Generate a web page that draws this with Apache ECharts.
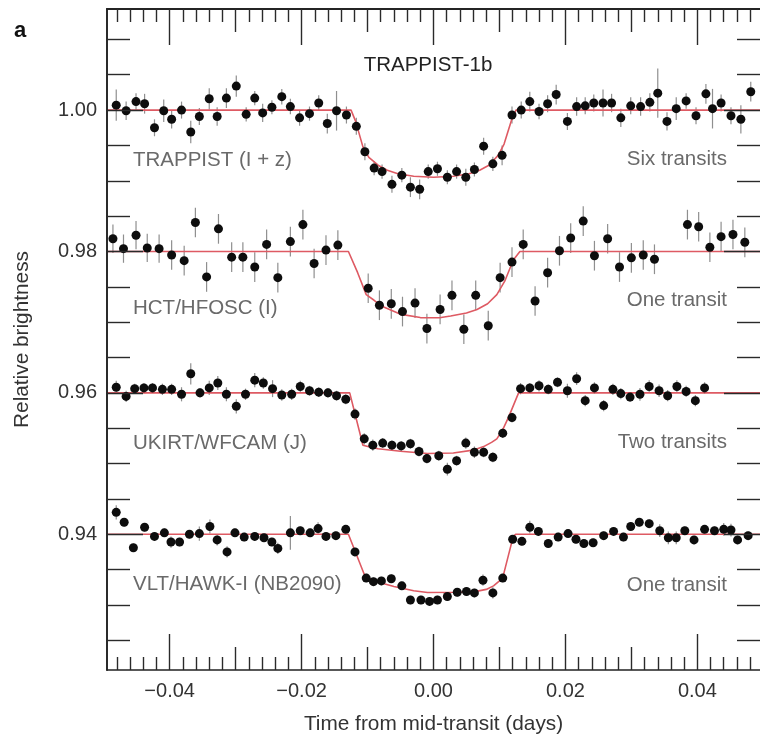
<!DOCTYPE html>
<html>
<head>
<meta charset="utf-8">
<script src="https://cdn.jsdelivr.net/npm/echarts@6/dist/echarts.min.js"></script>
<style>
  html, body { margin: 0; padding: 0; background: #ffffff; }
  #chart { width: 760px; height: 740px; }
</style>
</head>
<body>
<div id="chart"></div>
<script>
// Axis extents and tick positions
const xRange = [-0.0495, 0.0495];
const yRange = [0.9208, 1.0143];
const xMajorTicks = [-0.04, -0.02, 0.00, 0.02, 0.04];
const xMidTicks = [-0.03, -0.01, 0.01, 0.03];
const xMinorTicks = [];
for (let k = -24; k <= 24; k++) {
  if (k % 5 !== 0) xMinorTicks.push(k * 0.002);
}
const yMajorTicks = [0.94, 0.96, 0.98, 1.00];
const yMinorTicks = [0.925, 0.93, 0.935, 0.945, 0.95, 0.955, 0.965, 0.97, 0.975,
                     0.985, 0.99, 0.995, 1.005, 1.01];

const panelNames = ['TRAPPIST (I + z)', 'HCT/HFOSC (I)', 'UKIRT/WFCAM (J)', 'VLT/HAWK-I (NB2090)'];
const transitNotes = ['Six transits', 'One transit', 'Two transits', 'One transit'];

// Binned photometry: [time (days), relative flux, 1-sigma error]
const trappistObs = [
  [-0.0481,1.0007,0.0022],[-0.0466,0.9999,0.0013],[-0.0451,1.0012,0.0012],[-0.0438,1.0009,0.0014],
  [-0.0423,0.9975,0.0012],[-0.0409,0.9999,0.0016],[-0.0397,0.9987,0.0013],[-0.0382,1.0000,0.0012],
  [-0.0368,0.9969,0.0016],[-0.0355,0.9991,0.0012],[-0.0340,1.0016,0.0015],[-0.0328,0.9991,0.0013],
  [-0.0314,1.0017,0.0014],[-0.0299,1.0034,0.0015],[-0.0284,0.9994,0.0010],[-0.0271,1.0017,0.0010],
  [-0.0259,0.9996,0.0013],[-0.0245,1.0004,0.0010],[-0.0230,1.0019,0.0011],[-0.0217,1.0005,0.0011],
  [-0.0203,0.9989,0.0011],[-0.0188,0.9995,0.0010],[-0.0174,1.0010,0.0011],[-0.0161,0.9981,0.0014],
  [-0.0147,0.9999,0.0028],[-0.0132,0.9993,0.0012],[-0.0117,0.9977,0.0012],[-0.0104,0.9941,0.0012],
  [-0.0090,0.9918,0.0010],[-0.0078,0.9913,0.0010],[-0.0063,0.9895,0.0012],[-0.0048,0.9908,0.0010],
  [-0.0035,0.9891,0.0014],[-0.0021,0.9888,0.0014],[-0.0008,0.9913,0.0010],[0.0006,0.9917,0.0010],
  [0.0021,0.9905,0.0010],[0.0035,0.9913,0.0010],[0.0049,0.9905,0.0012],[0.0062,0.9916,0.0010],
  [0.0076,0.9949,0.0012],[0.0090,0.9924,0.0010],[0.0104,0.9936,0.0014],[0.0119,0.9993,0.0012],
  [0.0133,1.0000,0.0012],[0.0146,1.0012,0.0014],[0.0160,0.9998,0.0011],[0.0173,1.0009,0.0012],
  [0.0186,1.0022,0.0014],[0.0203,0.9984,0.0012],[0.0217,1.0005,0.0013],[0.0230,1.0006,0.0012],
  [0.0243,1.0010,0.0012],[0.0257,1.0010,0.0019],[0.0270,1.0010,0.0013],[0.0284,0.9989,0.0013],
  [0.0299,1.0006,0.0012],[0.0314,1.0005,0.0013],[0.0328,1.0011,0.0013],[0.0340,1.0024,0.0035],
  [0.0354,0.9984,0.0013],[0.0368,1.0002,0.0016],[0.0383,1.0013,0.0011],[0.0398,0.9992,0.0012],
  [0.0413,1.0023,0.0014],[0.0423,1.0002,0.0028],[0.0436,1.0010,0.0012],[0.0451,0.9992,0.0012],
  [0.0466,0.9987,0.0020],[0.0481,1.0026,0.0014]
];
const hctObs = [
  [-0.0486,0.9818,0.0020],[-0.0470,0.9804,0.0020],[-0.0451,0.9823,0.0020],[-0.0434,0.9805,0.0020],
  [-0.0416,0.9804,0.0020],[-0.0397,0.9795,0.0021],[-0.0378,0.9787,0.0021],[-0.0361,0.9841,0.0021],
  [-0.0344,0.9764,0.0021],[-0.0326,0.9832,0.0021],[-0.0306,0.9792,0.0021],[-0.0289,0.9792,0.0021],
  [-0.0271,0.9778,0.0021],[-0.0253,0.9810,0.0021],[-0.0236,0.9763,0.0021],[-0.0217,0.9814,0.0021],
  [-0.0198,0.9838,0.0021],[-0.0181,0.9783,0.0021],[-0.0163,0.9802,0.0021],[-0.0145,0.9809,0.0021],
  [-0.0099,0.9748,0.0021],[-0.0082,0.9724,0.0021],[-0.0064,0.9726,0.0021],[-0.0047,0.9715,0.0021],
  [-0.0028,0.9727,0.0021],[-0.0010,0.9691,0.0021],[0.0010,0.9718,0.0021],[0.0028,0.9738,0.0021],
  [0.0046,0.9690,0.0021],[0.0064,0.9738,0.0021],[0.0083,0.9695,0.0021],[0.0101,0.9763,0.0021],
  [0.0119,0.9785,0.0021],[0.0136,0.9810,0.0021],[0.0154,0.9730,0.0021],[0.0173,0.9770,0.0021],
  [0.0191,0.9801,0.0021],[0.0208,0.9819,0.0021],[0.0227,0.9843,0.0021],[0.0244,0.9794,0.0021],
  [0.0264,0.9818,0.0021],[0.0282,0.9778,0.0021],[0.0300,0.9791,0.0021],[0.0318,0.9795,0.0021],
  [0.0335,0.9789,0.0021],[0.0385,0.9838,0.0021],[0.0402,0.9835,0.0021],[0.0419,0.9806,0.0021],
  [0.0436,0.9821,0.0021],[0.0454,0.9824,0.0021],[0.0472,0.9813,0.0021]
];
const ukirtObs = [
  [-0.0481,0.9608,0.0009],[-0.0466,0.9595,0.0008],[-0.0453,0.9606,0.0007],[-0.0439,0.9607,0.0007],
  [-0.0426,0.9607,0.0007],[-0.0411,0.9605,0.0008],[-0.0397,0.9605,0.0008],[-0.0382,0.9598,0.0010],
  [-0.0368,0.9627,0.0015],[-0.0354,0.9600,0.0007],[-0.0340,0.9607,0.0010],[-0.0327,0.9614,0.0010],
  [-0.0314,0.9598,0.0010],[-0.0299,0.9581,0.0010],[-0.0285,0.9598,0.0008],[-0.0271,0.9618,0.0010],
  [-0.0258,0.9614,0.0008],[-0.0244,0.9606,0.0012],[-0.0230,0.9597,0.0008],[-0.0215,0.9598,0.0008],
  [-0.0202,0.9609,0.0008],[-0.0188,0.9603,0.0007],[-0.0174,0.9601,0.0007],[-0.0160,0.9600,0.0007],
  [-0.0147,0.9596,0.0007],[-0.0133,0.9591,0.0007],[-0.0119,0.9570,0.0008],[-0.0105,0.9535,0.0008],
  [-0.0092,0.9526,0.0008],[-0.0077,0.9529,0.0007],[-0.0063,0.9526,0.0007],[-0.0049,0.9525,0.0007],
  [-0.0035,0.9528,0.0007],[-0.0022,0.9517,0.0007],[-0.0010,0.9507,0.0007],[0.0008,0.9511,0.0007],
  [0.0021,0.9492,0.0009],[0.0035,0.9504,0.0007],[0.0049,0.9529,0.0008],[0.0062,0.9516,0.0008],
  [0.0076,0.9516,0.0007],[0.0090,0.9509,0.0007],[0.0105,0.9543,0.0007],[0.0119,0.9565,0.0007],
  [0.0132,0.9606,0.0008],[0.0146,0.9607,0.0007],[0.0160,0.9610,0.0008],[0.0174,0.9605,0.0007],
  [0.0188,0.9615,0.0007],[0.0203,0.9603,0.0010],[0.0217,0.9620,0.0009],[0.0230,0.9589,0.0008],
  [0.0244,0.9607,0.0008],[0.0258,0.9582,0.0008],[0.0272,0.9605,0.0008],[0.0284,0.9599,0.0008],
  [0.0298,0.9594,0.0007],[0.0313,0.9598,0.0009],[0.0327,0.9609,0.0009],[0.0342,0.9603,0.0009],
  [0.0355,0.9596,0.0008],[0.0369,0.9609,0.0009],[0.0383,0.9602,0.0008],[0.0397,0.9589,0.0008],
  [0.0411,0.9607,0.0008]
];
const vltObs = [
  [-0.0481,0.9431,0.0010],[-0.0469,0.9417,0.0006],[-0.0455,0.9381,0.0006],[-0.0438,0.9410,0.0006],
  [-0.0423,0.9397,0.0006],[-0.0408,0.9402,0.0006],[-0.0398,0.9389,0.0008],[-0.0385,0.9389,0.0006],
  [-0.0370,0.9400,0.0006],[-0.0355,0.9401,0.0010],[-0.0339,0.9411,0.0010],[-0.0328,0.9392,0.0008],
  [-0.0313,0.9375,0.0008],[-0.0301,0.9402,0.0006],[-0.0287,0.9396,0.0006],[-0.0271,0.9397,0.0006],
  [-0.0257,0.9395,0.0006],[-0.0245,0.9389,0.0006],[-0.0236,0.9380,0.0008],[-0.0217,0.9402,0.0024],
  [-0.0202,0.9405,0.0006],[-0.0187,0.9402,0.0006],[-0.0175,0.9408,0.0009],[-0.0163,0.9397,0.0006],
  [-0.0148,0.9398,0.0006],[-0.0133,0.9407,0.0006],[-0.0119,0.9375,0.0006],[-0.0102,0.9338,0.0006],
  [-0.0091,0.9333,0.0006],[-0.0079,0.9334,0.0006],[-0.0064,0.9337,0.0006],[-0.0048,0.9327,0.0006],
  [-0.0035,0.9307,0.0006],[-0.0019,0.9307,0.0006],[-0.0006,0.9305,0.0006],[0.0006,0.9307,0.0006],
  [0.0021,0.9312,0.0006],[0.0036,0.9318,0.0006],[0.0050,0.9319,0.0006],[0.0062,0.9317,0.0006],
  [0.0075,0.9335,0.0008],[0.0090,0.9317,0.0008],[0.0105,0.9338,0.0006],[0.0120,0.9393,0.0006],
  [0.0134,0.9390,0.0006],[0.0146,0.9410,0.0009],[0.0159,0.9404,0.0006],[0.0174,0.9387,0.0006],
  [0.0189,0.9396,0.0006],[0.0204,0.9401,0.0006],[0.0216,0.9393,0.0006],[0.0228,0.9387,0.0006],
  [0.0242,0.9388,0.0006],[0.0258,0.9398,0.0006],[0.0273,0.9404,0.0006],[0.0288,0.9396,0.0006],
  [0.0299,0.9411,0.0006],[0.0312,0.9417,0.0006],[0.0327,0.9415,0.0006],[0.0343,0.9405,0.0009],
  [0.0356,0.9395,0.0009],[0.0368,0.9395,0.0009],[0.0381,0.9405,0.0006],[0.0395,0.9392,0.0006],
  [0.0411,0.9407,0.0006],[0.0426,0.9405,0.0006],[0.0440,0.9407,0.0009],[0.0451,0.9406,0.0009],
  [0.0461,0.9392,0.0006],[0.0477,0.9398,0.0006]
];

// Best-fit transit models: [time (days), relative flux]
const trappistModel = [
  [-0.0495,1.0000],[-0.0125,1.0000],[-0.0118,0.9984],[-0.0107,0.9948],[-0.0098,0.9933],
  [-0.0084,0.9922],[-0.0070,0.9915],[-0.0054,0.9910],[-0.0030,0.99065],[0.0000,0.9905],
  [0.0030,0.99065],[0.0054,0.9910],[0.0070,0.9915],[0.0084,0.9922],[0.0098,0.9936],
  [0.0107,0.9952],[0.0118,0.9985],[0.0125,1.0000],[0.0495,1.0000]
];
const hctModel = [
  [-0.0495,0.9800],[-0.0129,0.9800],[-0.0115,0.9770],[-0.0102,0.9739],[-0.0090,0.9731],
  [-0.0079,0.9723],[-0.0049,0.9711],[-0.0020,0.97065],[0.0009,0.97063],[0.0026,0.97087],
  [0.0050,0.9713],[0.0066,0.9718],[0.0082,0.9726],[0.0096,0.9739],[0.0108,0.9758],
  [0.0121,0.9788],[0.0131,0.9800],[0.0495,0.9800]
];
const ukirtModel = [
  [-0.0495,0.9600],[-0.0127,0.9600],[-0.0107,0.9526],[-0.0095,0.9523],[-0.0084,0.9521],
  [-0.0050,0.95175],[-0.0009,0.95143],[0.0030,0.9515],[0.0060,0.9519],[0.0076,0.9524],
  [0.0088,0.9530],[0.0096,0.9535],[0.0105,0.9548],[0.0114,0.9566],[0.0129,0.9600],[0.0495,0.9600]
];
const vltModel = [
  [-0.0495,0.9400],[-0.0129,0.9400],[-0.0104,0.9341],[-0.0090,0.9334],[-0.0060,0.9326],
  [-0.0030,0.9320],[-0.0009,0.93176],[0.0030,0.9318],[0.0061,0.93185],[0.0080,0.9322],
  [0.0091,0.9327],[0.0100,0.9334],[0.0105,0.93386],[0.0121,0.93973],[0.0125,0.9400],[0.0495,0.9400]
];

const panels = [
  { obs: trappistObs, model: trappistModel },
  { obs: hctObs, model: hctModel },
  { obs: ukirtObs, model: ukirtModel },
  { obs: vltObs, model: vltModel }
];

const FONT = 'Liberation Sans, Arial, Helvetica, sans-serif';
const INK = '#222222';
const TICK = '#2a2a2a';

function fmt(v) {
  const s = Math.abs(v).toFixed(2);
  return v < -1e-9 ? '\u2212' + s : s;
}

function xAxisDef(position, ticks, len, withLabels) {
  return {
    type: 'value', position: position, min: xRange[0], max: xRange[1], z: 6,
    splitLine: { show: false },
    axisLine: { show: withLabels || position === 'top', onZero: false, lineStyle: { color: INK, width: 1.6 } },
    axisTick: { show: true, inside: true, length: len, customValues: ticks,
                lineStyle: { color: TICK, width: 1.4 } },
    axisLabel: withLabels
      ? { show: true, customValues: xMajorTicks, formatter: fmt, margin: 11,
          fontFamily: FONT, fontSize: 20, color: '#333333' }
      : { show: false },
    name: withLabels ? 'Time from mid-transit (days)' : '',
    nameLocation: 'middle', nameGap: 44,
    nameTextStyle: { fontFamily: FONT, fontSize: 20.8, color: '#333333' }
  };
}

function yAxisDef(position, ticks, len, withLabels) {
  return {
    type: 'value', position: position, min: yRange[0], max: yRange[1], z: 6,
    splitLine: { show: false },
    axisLine: { show: position === 'left', onZero: false, lineStyle: { color: INK, width: 1.6 } },
    axisTick: { show: true, inside: true, length: len, customValues: ticks,
                lineStyle: { color: TICK, width: 1.4 } },
    axisLabel: withLabels
      ? { show: true, customValues: yMajorTicks, formatter: fmt, margin: 10,
          fontFamily: FONT, fontSize: 20, color: '#333333' }
      : { show: false },
    name: withLabels ? 'Relative brightness' : '',
    nameLocation: 'middle', nameGap: 74, nameRotate: 90,
    nameTextStyle: { fontFamily: FONT, fontSize: 20.8, color: '#333333' }
  };
}

const series = [];
panels.forEach(function (p) {
  series.push({
    type: 'custom', xAxisIndex: 0, yAxisIndex: 0, z: 2, silent: true,
    data: p.obs,
    renderItem: function (params, api) {
      const t = api.value(0), v = api.value(1), e = api.value(2);
      const lo = api.coord([t, v - e]);
      const hi = api.coord([t, v + e]);
      return {
        type: 'line',
        shape: { x1: lo[0], y1: lo[1], x2: hi[0], y2: hi[1] },
        style: { stroke: '#8f8f8f', lineWidth: 1.2 }
      };
    }
  });
  series.push({
    type: 'line', xAxisIndex: 0, yAxisIndex: 0, z: 3, silent: true,
    data: p.model, showSymbol: false, symbol: 'none',
    lineStyle: { color: '#de5a63', width: 1.6 }
  });
  series.push({
    type: 'scatter', xAxisIndex: 0, yAxisIndex: 0, z: 4, silent: true,
    data: p.obs.map(function (r) { return [r[0], r[1]]; }),
    symbol: 'circle', symbolSize: 9,
    itemStyle: { color: '#0d0d0d', opacity: 1 }
  });
});

const labelStyle = { fontFamily: FONT, fontSize: 20.5, fill: '#6a6a6a' };
const leftLabelY = [160, 308, 443, 584];
const rightLabelY = [159, 300, 442, 585];
const graphics = [
  { type: 'text', left: 14, top: 20, z: 10,
    style: { text: 'a', fontFamily: FONT, fontSize: 22, fontWeight: 'bold', fill: '#111111' } },
  { type: 'text', x: 428, y: 65, z: 10,
    style: { text: 'TRAPPIST-1b', fontFamily: FONT, fontSize: 20.5, fill: '#222222',
             align: 'center', verticalAlign: 'middle' } }
];
panelNames.forEach(function (name, i) {
  graphics.push({ type: 'text', x: 133, y: leftLabelY[i], z: 10,
    style: Object.assign({ text: name, align: 'left', verticalAlign: 'middle' }, labelStyle) });
  graphics.push({ type: 'text', x: 727, y: rightLabelY[i], z: 10,
    style: Object.assign({ text: transitNotes[i], align: 'right', verticalAlign: 'middle' }, labelStyle) });
});

const chart = echarts.init(document.getElementById('chart'), null, { renderer: 'canvas' });
chart.setOption({
  animation: false,
  backgroundColor: '#ffffff',
  grid: { left: 107, top: 9, width: 658, height: 666, containLabel: false },
  xAxis: [
    xAxisDef('bottom', xMajorTicks, 36, true),
    xAxisDef('bottom', xMidTicks, 23, false),
    xAxisDef('bottom', xMinorTicks, 13, false),
    xAxisDef('top', xMajorTicks, 36, false),
    xAxisDef('top', xMidTicks, 23, false),
    xAxisDef('top', xMinorTicks, 13, false)
  ],
  yAxis: [
    yAxisDef('left', yMajorTicks, 36, true),
    yAxisDef('left', yMinorTicks, 23, false),
    yAxisDef('right', yMajorTicks, 36, false),
    yAxisDef('right', yMinorTicks, 23, false)
  ],
  graphic: graphics,
  series: series
});
</script>
</body>
</html>
